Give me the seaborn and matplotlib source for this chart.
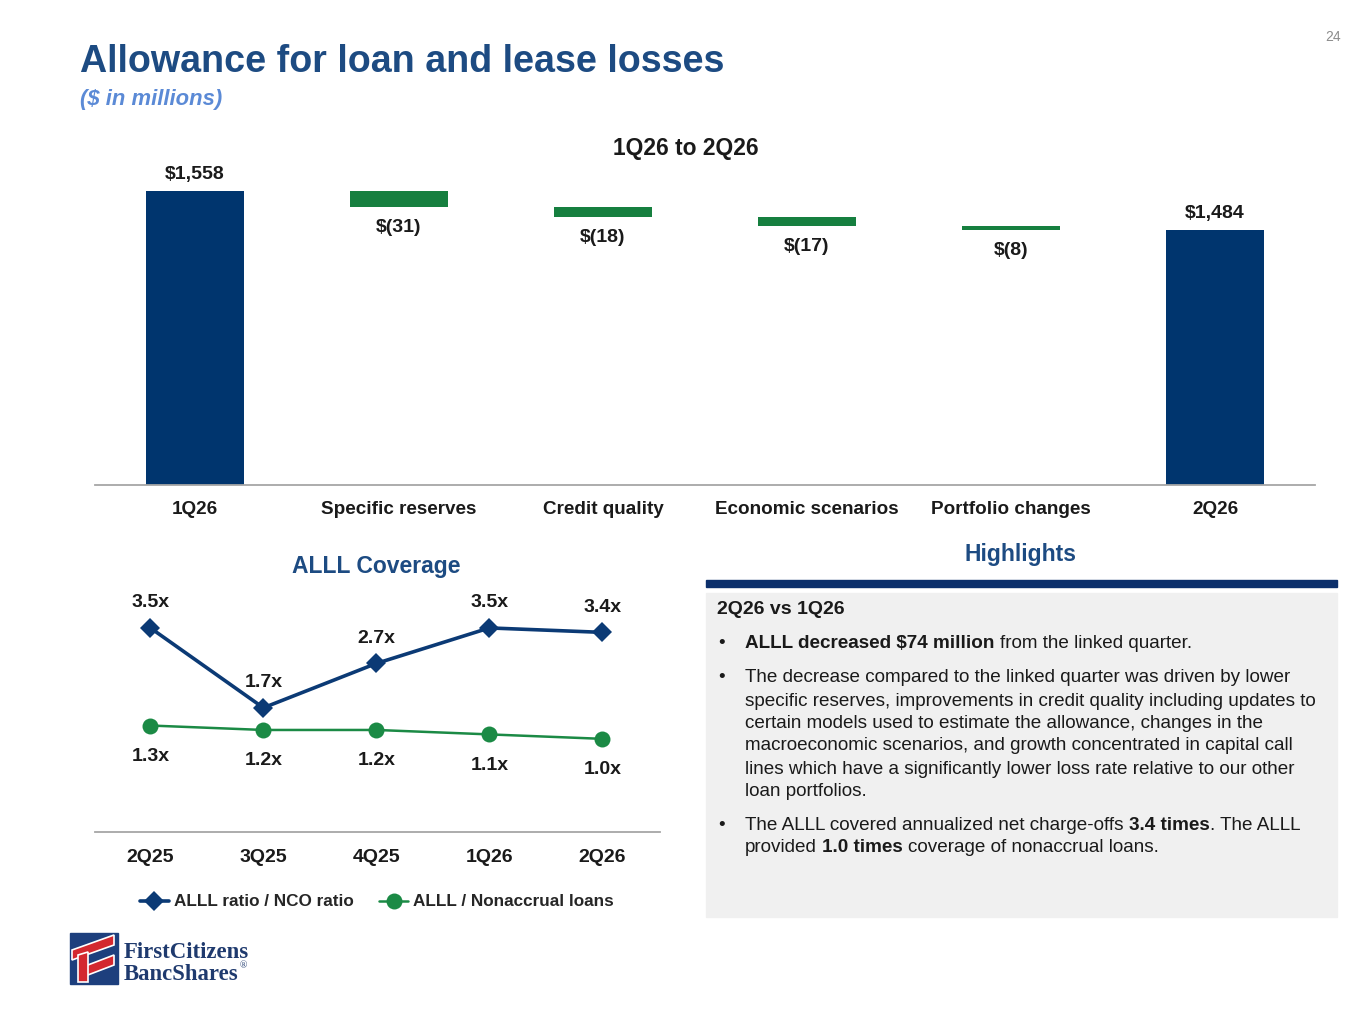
import matplotlib.pyplot as plt
import matplotlib.patches as mpatches
import seaborn as sns
import numpy as np
import pandas as pd

# DATA
steps = ["1Q26", "Specific reserves", "Credit quality", "Economic scenarios", "Portfolio changes", "2Q26"]
start_alll = 1558
changes = [-31, -18, -17, -8]
end_alll = 1484

quarters = ["2Q25", "3Q25", "4Q25", "1Q26", "2Q26"]
nco_cover = [3.5, 1.7, 2.7, 3.5, 3.4]
nonaccrual_cover = [1.3, 1.2, 1.2, 1.1, 1.0]

header = "2Q26 vs 1Q26"
bullets = [
    [[("ALLL decreased $74 million", True), (" from the linked quarter.", False)]],
    [[("The decrease compared to the linked quarter was driven by lower", False)],
     [("specific reserves, improvements in credit quality including updates to", False)],
     [("certain models used to estimate the allowance, changes in the", False)],
     [("macroeconomic scenarios, and growth concentrated in capital call", False)],
     [("lines which have a significantly lower loss rate relative to our other", False)],
     [("loan portfolios.", False)]],
    [[("The ALLL covered annualized net charge-offs ", False), ("3.4 times", True), (". The ALLL", False)],
     [("provided ", False), ("1.0 times", True), (" coverage of nonaccrual loans.", False)]],
]

# STYLE
sns.set_theme(style="white")
plt.rcParams['font.family'] = ['Liberation Sans', 'DejaVu Sans']

NAVY = "#00356e"
GREEN = "#167f3f"
TITLE_BLUE = "#1d4b82"
INK = "#1a1a1a"
W, H = 1365, 1024

fig = plt.figure(figsize=(W / 100, H / 100), dpi=100)
fig.patch.set_facecolor("white")


def fx(x):
    return x / W


def fy(y):
    return 1 - y / H


# TITLES
fig.text(fx(80), fy(62), "Allowance for loan and lease losses", fontsize=27.1, fontweight="bold",
         color=TITLE_BLUE, va="center", ha="left")
fig.text(fx(80), fy(100), "($ in millions)", fontsize=15.8, fontweight="bold", style="italic",
         color="#5b8ad6", va="center", ha="left")
fig.text(fx(1333), fy(37), "24", fontsize=10, color="#8c8c8c", va="center", ha="center")

# WATERFALL
ax1 = fig.add_axes([fx(95), fy(485), fx(1315) - fx(95), (485 - 170) / H])
running = start_alll
bottoms, heights, colors, labels = [0], [start_alll], [NAVY], ["${:,}".format(start_alll)]
for c in changes:
    bottoms.append(running + c)
    heights.append(-c)
    colors.append(GREEN)
    labels.append("$({})".format(-c))
    running += c
bottoms.append(0)
heights.append(end_alll)
colors.append(NAVY)
labels.append("${:,}".format(end_alll))

xpos = np.arange(len(steps))
ax1.bar(xpos, heights, bottom=bottoms, width=0.48, color=colors, linewidth=0)
for i, (b, h, lab) in enumerate(zip(bottoms, heights, labels)):
    if colors[i] == NAVY:
        ax1.annotate(lab, (i, b + h), xytext=(0, 6), textcoords="offset points",
                     ha="center", va="bottom", fontsize=14, fontweight="bold", color=INK)
    else:
        ax1.annotate(lab, (i, b), xytext=(0, -8.5), textcoords="offset points",
                     ha="center", va="top", fontsize=14, fontweight="bold", color=INK)
ax1.set_xlim(-0.49, len(steps) - 0.51)
ax1.set_ylim(1000, 1598)
ax1.set_xticks(xpos)
ax1.set_xticklabels(steps, fontsize=13.6, fontweight="bold", color=INK)
ax1.set_yticks([])
ax1.tick_params(axis="x", length=0, pad=11.5)
for s in ["top", "left", "right"]:
    ax1.spines[s].set_visible(False)
ax1.spines["bottom"].set_color("#a6a6a6")
ax1.spines["bottom"].set_linewidth(1.3)
ax1.set_facecolor("none")
fig.text(fx(686), fy(148), "1Q26 to 2Q26", fontsize=16.4, fontweight="bold", color=INK,
         ha="center", va="center")

# ALLL COVERAGE LINES
ax2 = fig.add_axes([fx(95), fy(832), fx(660) - fx(95), (832 - 588) / H])
qx = np.arange(len(quarters))
df = pd.DataFrame({"q": qx, "nco": nco_cover, "nonacc": nonaccrual_cover})
sns.lineplot(data=df, x="q", y="nco", ax=ax2, color="#0b3a75", marker="D", markersize=10,
             linewidth=2.6, markeredgewidth=0, label="ALLL ratio / NCO ratio")
sns.lineplot(data=df, x="q", y="nonacc", ax=ax2, color="#1b8a45", marker="o", markersize=11.5,
             linewidth=1.8, markeredgewidth=0, label="ALLL / Nonaccrual loans")
for i in range(len(quarters)):
    ax2.annotate("{:.1f}x".format(nco_cover[i]), (i, nco_cover[i]), xytext=(0, 12),
                 textcoords="offset points", ha="center", va="bottom", fontsize=14,
                 fontweight="bold", color=INK)
    ax2.annotate("{:.1f}x".format(nonaccrual_cover[i]), (i, nonaccrual_cover[i]), xytext=(0, -16),
                 textcoords="offset points", ha="center", va="top", fontsize=14,
                 fontweight="bold", color=INK)
ax2.set_xlim(-0.49, len(quarters) - 0.49)
ax2.set_ylim(-1.1, 4.4)
ax2.set_xticks(qx)
ax2.set_xticklabels(quarters, fontsize=14, fontweight="bold", color=INK)
ax2.set_yticks([])
ax2.set_xlabel("")
ax2.set_ylabel("")
ax2.tick_params(axis="x", length=0, pad=12)
for s in ["top", "left", "right"]:
    ax2.spines[s].set_visible(False)
ax2.spines["bottom"].set_color("#a6a6a6")
ax2.spines["bottom"].set_linewidth(1.3)
ax2.set_facecolor("none")
handles, leg_labels = ax2.get_legend_handles_labels()
ax2.get_legend().remove()
fig.legend(handles, leg_labels, loc="center", bbox_to_anchor=(fx(377), fy(902)), ncol=2,
           frameon=False, prop={"size": 12.3, "weight": "bold"}, handlelength=1.7,
           columnspacing=1.5, handletextpad=0.3)
fig.text(fx(376), fy(567), "ALLL Coverage", fontsize=16.5, fontweight="bold", color=TITLE_BLUE,
         ha="center", va="center")

# HIGHLIGHTS PANEL
fig.text(fx(1020), fy(555), "Highlights", fontsize=16.5, fontweight="bold", color=TITLE_BLUE,
         ha="center", va="center")
fig.patches.append(mpatches.Rectangle((fx(706), fy(587)), fx(1337) - fx(706), 7 / H,
                                      transform=fig.transFigure, color="#0b2f6b", zorder=1))
fig.patches.append(mpatches.Rectangle((fx(706), fy(917)), fx(1337) - fx(706), (917 - 593) / H,
                                      transform=fig.transFigure, color="#f0f0f0", zorder=1))

renderer = fig.canvas.get_renderer()
BODY = 13.6


def text_width(s, bold):
    t = fig.text(0, 0, s, fontsize=BODY, fontweight="bold" if bold else "normal")
    w = t.get_window_extent(renderer).width
    t.remove()
    return w


def rich_line(x, y, segs):
    for txt, bold in segs:
        sp = text_width("a a", bold) - text_width("aa", bold)
        lead = len(txt) - len(txt.lstrip(" "))
        trail = len(txt) - len(txt.rstrip(" "))
        x += lead * sp
        t = fig.text(fx(x), fy(y), txt.strip(), fontsize=BODY, color=INK,
                     fontweight="bold" if bold else "normal", va="center", ha="left")
        x = t.get_window_extent(renderer).x1 + trail * sp


fig.text(fx(717), fy(610), header, fontsize=14, fontweight="bold", color=INK,
         va="center", ha="left")
line_y = [[643], [678, 701, 723, 746, 769, 792], [826, 848]]
for lines, ys in zip(bullets, line_y):
    fig.text(fx(722), fy(ys[0]), "\u2022", fontsize=BODY, color=INK, va="center", ha="center")
    for segs, y in zip(lines, ys):
        rich_line(745, y, segs)

# LOGO
fig.patches.append(mpatches.Rectangle((fx(70), fy(984)), 48 / W, 51 / H,
                                      transform=fig.transFigure, color="#1d3f7d", zorder=2))
for pts in [
    [(72, 950), (114, 935), (114, 945), (72, 960)],
    [(80, 968), (114, 955), (114, 965), (80, 978)],
    [(78, 955), (88, 952), (88, 982), (78, 982)],
]:
    fig.patches.append(mpatches.Polygon([(fx(a), fy(b)) for a, b in pts], closed=True,
                                        transform=fig.transFigure, facecolor="#d3282f",
                                        edgecolor="white", linewidth=1.2, zorder=3))
fig.text(fx(124), fy(953), "FirstCitizens", fontsize=16.4, fontweight="bold",
         family="Liberation Serif", color="#1f3a6e", va="center", ha="left")
t_bs = fig.text(fx(124), fy(974), "BancShares", fontsize=16.4, fontweight="bold",
                family="Liberation Serif", color="#1f3a6e", va="center", ha="left")
bs_end = t_bs.get_window_extent(renderer).x1
fig.text(fx(bs_end + 1), fy(966), "\u00ae", fontsize=7, family="Liberation Serif",
         color="#1f3a6e", va="center", ha="left")

plt.savefig("out.png", dpi=100)
